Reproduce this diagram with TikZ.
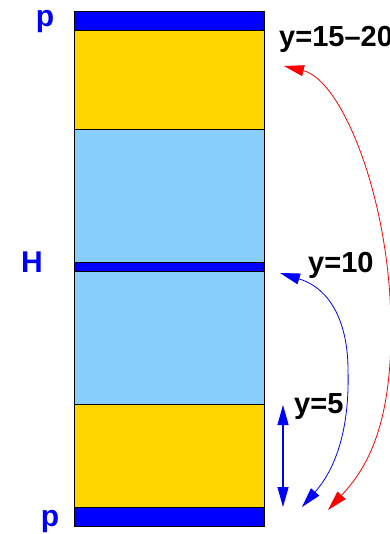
\documentclass[tikz,border=0pt]{standalone}
\usepackage{fontspec}
\setmainfont{Liberation Sans}
\usetikzlibrary{arrows.meta, positioning}
\definecolor{blueA}{HTML}{0000FF}
\definecolor{goldA}{HTML}{FFD700}
\definecolor{skyA}{HTML}{87CEFA}
\definecolor{redA}{HTML}{FF0000}
\tikzset{
  band/.style={
    draw=black, fill=#1, line width=0.8pt, outer sep=0pt,
    inner sep=0pt, minimum width=190pt
  },
  plabel/.style={text=blueA, font=\fontsize{30}{30}\selectfont\bfseries, inner sep=0pt},
  ylabel/.style={text=black, font=\fontsize{29}{29}\selectfont\bfseries, inner sep=0pt, anchor=base west},
  twoway/.style={{Triangle[length=20pt,width=11pt]}-{Triangle[length=20pt,width=11pt]}, line width=#1}
}

\begin{document}
\begin{tikzpicture}[x=1pt, y=-1pt]
  \useasboundingbox (0,0) rectangle (389,534);

  % stack of layers, top to bottom
  \node[band=blueA, minimum height=19pt] (ptop) at (169,20.5) {};
  \node[band=goldA, minimum height=99pt, below=0pt of ptop] (gtop) {};
  \node[band=skyA, minimum height=133pt, below=0pt of gtop] (stop) {};
  \node[band=blueA, minimum height=9pt, below=0pt of stop] (hmid) {};
  \node[band=skyA, minimum height=133pt, below=0pt of hmid] (sbot) {};
  \node[band=goldA, minimum height=103pt, below=0pt of sbot] (gbot) {};
  \node[band=blueA, minimum height=19pt, below=0pt of gbot] (pbot) {};

  % labels on the left
  \node[plabel, anchor=base] (lptop) at (45,27) {p};
  \node[plabel, anchor=base west] (lh) at (21,272) {H};
  \node[plabel, anchor=base] (lpbot) at (50,526) {p};

  % labels on the right
  \node[ylabel] (ly20) at (279,47) {y=15–20};
  \node[ylabel] (ly10) at (308,272) {y=10};
  \node[ylabel] (ly5) at (294,413) {y=5};

  % arrow ends
  \coordinate (rtop) at (284,66);
  \coordinate (rbot) at (328,510);
  \coordinate (btop) at (280,273);
  \coordinate (bbot) at (302,507);
  \coordinate (dtop) at (283,405);
  \coordinate (dbot) at (283,507);

  \draw[twoway=0.8pt, redA] (rtop) .. controls (342,80) and (391,200) .. (391,330)
    .. controls (391,430) and (365,470) .. (rbot);
  \draw[twoway=0.8pt, blueA] (btop) .. controls (335,290) and (348,330) .. (348,370)
    .. controls (350,440) and (330,475) .. (bbot);
  \draw[twoway=1.2pt, blueA] (dtop) -- (dbot);
\end{tikzpicture}
\end{document}
